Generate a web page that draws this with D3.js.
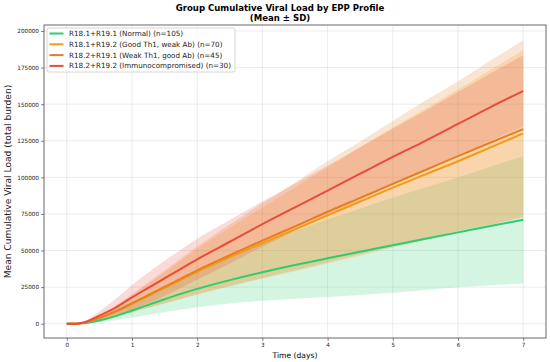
<!DOCTYPE html>
<html>
<head>
<meta charset="utf-8">
<script src="https://cdn.jsdelivr.net/npm/d3@7"></script>
<style>
  body { margin: 0; background: #fff; }
  svg { display: block; font-family: "DejaVu Sans", sans-serif; }
</style>
</head>
<body>
<svg id="chart"></svg>
<script>
// time points (days)
const days = [0, 0.15, 0.25, 0.5, 0.75, 1, 1.25, 1.5, 1.75, 2, 2.5, 3, 3.5, 4, 4.5, 5, 5.5, 6, 6.5, 7];

// group means
const normalMean = [0, 0, 300, 2200, 5200, 9000, 12900, 16700, 20400, 23800, 29800, 35200, 40100, 44700, 49200, 53600, 58000, 62400, 66800, 71000];
const goodTh1Mean = [0, 0, 500, 3800, 8200, 13500, 19000, 24500, 30000, 35500, 45500, 55000, 64500, 74000, 83500, 93000, 102000, 111000, 120500, 130000];
const weakTh1Mean = [0, 0, 550, 4000, 8600, 14000, 19600, 25200, 30800, 36500, 46800, 56800, 66500, 76500, 86000, 95500, 105000, 114500, 123800, 133000];
const immunoMean = [0, 0, 800, 5500, 11000, 18000, 24500, 31000, 37500, 44000, 56000, 68000, 79500, 91000, 102500, 114000, 125000, 136500, 148000, 159000];

// group standard deviations
const normalSd = [0, 0, 200, 1200, 2800, 4800, 6800, 8800, 10700, 12500, 16000, 19500, 23000, 26500, 29500, 32500, 35000, 37500, 40500, 43500];
const goodTh1Sd = [0, 0, 300, 1700, 3600, 5900, 8300, 10700, 13200, 15600, 20000, 24300, 28600, 32800, 37000, 41000, 45000, 49000, 53000, 56800];
const weakTh1Sd = [0, 0, 300, 1800, 3800, 6200, 8700, 11200, 13800, 16300, 21000, 25500, 30000, 34500, 38500, 43000, 47500, 51000, 56000, 60600];
const immunoSd = [0, 0, 500, 3000, 6000, 8500, 10500, 12000, 13100, 14000, 14800, 15500, 16200, 17000, 18000, 19200, 20500, 21800, 23000, 24400];

const groupNames = [
  "R18.1+R19.1 (Normal) (n=105)",
  "R18.1+R19.2 (Good Th1, weak Ab) (n=70)",
  "R18.2+R19.1 (Weak Th1, good Ab) (n=45)",
  "R18.2+R19.2 (Immunocompromised) (n=30)"
];
const groupColors = ["#2ecc71", "#f39c12", "#e67e22", "#e74c3c"];

const xTicks = [0, 1, 2, 3, 4, 5, 6, 7];
const yTicks = [0, 25000, 50000, 75000, 100000, 125000, 150000, 175000, 200000];

const groups = [
  {name: groupNames[0], color: groupColors[0], mean: normalMean, sd: normalSd},
  {name: groupNames[1], color: groupColors[1], mean: goodTh1Mean, sd: goodTh1Sd},
  {name: groupNames[2], color: groupColors[2], mean: weakTh1Mean, sd: weakTh1Sd},
  {name: groupNames[3], color: groupColors[3], mean: immunoMean, sd: immunoSd}
];

const W = 550, H = 362;
const margin = {top: 25, right: 4, bottom: 24, left: 44};
const width = W - margin.left - margin.right,
    height = H - margin.top - margin.bottom;

const svg = d3.select("#chart")
    .attr("width", W)
    .attr("height", H);

const g = svg.append("g")
    .attr("transform", "translate(" + margin.left + "," + margin.top + ")");

// scales (matplotlib-like 5% padding)
const x = d3.scaleLinear().domain([-0.35, 7.35]).range([0, width]);
const y = d3.scaleLinear().domain([-9760, 204100]).range([height, 0]);

// grid
g.append("g")
    .selectAll("line")
    .data(xTicks)
    .join("line")
    .attr("x1", d => x(d)).attr("x2", d => x(d))
    .attr("y1", 0).attr("y2", height)
    .attr("stroke", "#b0b0b0").attr("stroke-opacity", 0.3).attr("stroke-width", 0.8);
g.append("g")
    .selectAll("line")
    .data(yTicks)
    .join("line")
    .attr("y1", d => y(d)).attr("y2", d => y(d))
    .attr("x1", 0).attr("x2", width)
    .attr("stroke", "#b0b0b0").attr("stroke-opacity", 0.3).attr("stroke-width", 0.8);

// bands and lines
const area = d3.area()
    .x((d, i) => x(days[i]))
    .y0(d => y(d.lo))
    .y1(d => y(d.hi))
    .curve(d3.curveMonotoneX);
const line = d3.line()
    .x((d, i) => x(days[i]))
    .y(d => y(d))
    .curve(d3.curveMonotoneX);

groups.forEach(function(grp) {
    const band = grp.mean.map((m, i) => ({lo: m - grp.sd[i], hi: m + grp.sd[i]}));
    g.append("path")
        .attr("d", area(band))
        .attr("fill", grp.color)
        .attr("fill-opacity", 0.2);
});
groups.forEach(function(grp) {
    g.append("path")
        .attr("d", line(grp.mean))
        .attr("fill", "none")
        .attr("stroke", grp.color)
        .attr("stroke-width", 2);
});

// axes
const xAxis = g.append("g")
    .attr("transform", "translate(0," + height + ")")
    .call(d3.axisBottom(x).tickValues(xTicks).tickSize(3).tickPadding(2).tickFormat(d3.format("d")));
const yAxis = g.append("g")
    .call(d3.axisLeft(y).tickValues(yTicks).tickSize(3).tickPadding(2).tickFormat(d3.format("d")));
[xAxis, yAxis].forEach(function(ax) {
    ax.select(".domain").remove();
    ax.selectAll("line").attr("stroke", "#333").attr("stroke-width", 0.6);
    ax.selectAll("text").attr("fill", "#222").style("font-size", "5.7px").style("font-family", "DejaVu Sans");
});

// frame
g.append("rect")
    .attr("width", width).attr("height", height)
    .attr("fill", "none").attr("stroke", "#444").attr("stroke-width", 0.8);

// labels
svg.append("text")
    .attr("x", margin.left + width / 2).attr("y", 358)
    .attr("text-anchor", "middle")
    .style("font-size", "7.6px")
    .text("Time (days)");
svg.append("text")
    .attr("transform", "translate(11," + (margin.top + height / 2) + ") rotate(-90)")
    .attr("text-anchor", "middle")
    .style("font-size", "9.1px")
    .attr("fill", "#222")
    .text("Mean Cumulative Viral Load (total burden)");

svg.append("text")
    .attr("x", 280).attr("y", 11)
    .attr("text-anchor", "middle")
    .style("font-size", "8.55px").style("font-weight", "bold")
    .text("Group Cumulative Viral Load by EPP Profile");
svg.append("text")
    .attr("x", 280).attr("y", 20.5)
    .attr("text-anchor", "middle")
    .style("font-size", "8.55px").style("font-weight", "bold")
    .text("(Mean ± SD)");

// legend
const legend = g.append("g").attr("transform", "translate(3,3)");
legend.append("rect")
    .attr("width", 188).attr("height", 44)
    .attr("rx", 2)
    .attr("fill", "#fff").attr("fill-opacity", 0.8)
    .attr("stroke", "#ccc").attr("stroke-width", 0.8);
const items = legend.selectAll("g.item")
    .data(groups)
    .join("g")
    .attr("class", "item")
    .attr("transform", (d, i) => "translate(0," + (5.5 + i * 10.8) + ")");
items.append("line")
    .attr("x1", 2.5).attr("x2", 16.5)
    .attr("stroke", d => d.color).attr("stroke-width", 2);
items.append("text")
    .attr("x", 22).attr("y", 2.5)
    .style("font-size", "7.2px")
    .attr("fill", "#222")
    .text(d => d.name);
</script>
</body>
</html>
